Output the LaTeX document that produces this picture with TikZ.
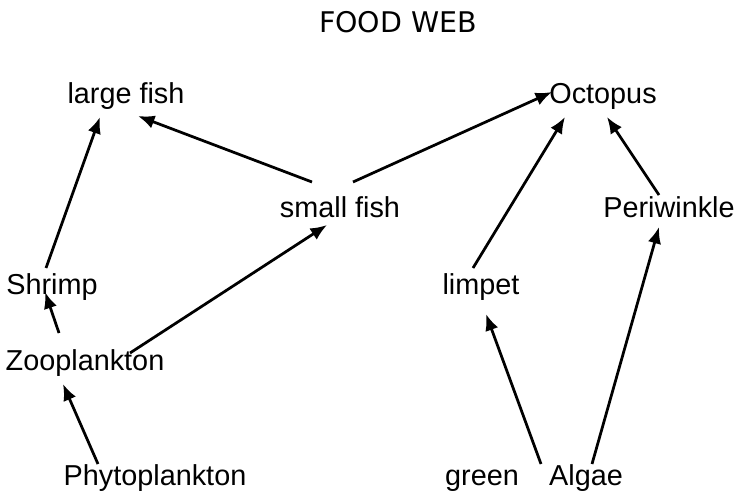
\documentclass[tikz,border=0pt]{standalone}
\usepackage{fontspec}
\setmainfont{Liberation Sans}
\newfontfamily\titlefont{DejaVu Sans}
\usetikzlibrary{arrows.meta}

\tikzset{
  organism/.style={anchor=base, inner sep=0pt, font=\fontsize{16.4}{18}\selectfont},
  eats/.style={-{Latex[length=3.3mm,width=2.7mm]}, line width=0.55mm},
}

\begin{document}
\begin{tikzpicture}[x=0.2mm, y=-0.2mm]
\useasboundingbox (0,0) rectangle (737,497) ;

\node[anchor=base, inner sep=0pt, font=\titlefont\fontsize{16.2}{18}\selectfont] (title) at (398,32) {FOOD WEB} ;

% top row
\node[organism] (largefish) at (126,103) {large fish} ;
\node[organism] (octopus) at (603,103) {Octopus} ;
% middle
\node[organism] (smallfish) at (340,217) {small fish} ;
\node[organism] (periwinkle) at (669,217) {Periwinkle} ;
\node[organism] (shrimp) at (52,294) {Shrimp} ;
\node[organism] (limpet) at (481,294) {limpet} ;
\node[organism] (zoo) at (85,370) {Zooplankton} ;
% bottom row
\node[organism] (phyto) at (155,485) {Phytoplankton} ;
\node[organism] (green) at (482,485) {green} ;
\node[organism] (algae) at (586,485) {Algae} ;

\draw[eats] ([shift={(-6,-26)}]shrimp.base) -- ([shift={(-26,14)}]largefish.base) ;
\draw[eats] ([shift={(-28,-35)}]smallfish.base) -- ([shift={(12,13)}]largefish.base) ;
\draw[eats] ([shift={(13,-35)}]smallfish.base) -- ([shift={(-51,-11)}]octopus.base) ;
\draw[eats] ([shift={(-26,-37)}]zoo.base) -- ([shift={(-7,-2)}]shrimp.base) ;
\draw[eats] ([shift={(45,-17)}]zoo.base) -- ([shift={(-13,8)}]smallfish.base) ;
\draw[eats] ([shift={(-57,-21)}]phyto.base) -- ([shift={(-22,14)}]zoo.base) ;
\draw[eats] ([shift={(-8,-26)}]limpet.base) -- ([shift={(-38,14)}]octopus.base) ;
\draw[eats] ([shift={(-10,-22)}]periwinkle.base) -- ([shift={(4,14)}]octopus.base) ;
\draw[eats] ([shift={(-45,-21)}]algae.base) -- ([shift={(5,20)}]limpet.base) ;
\draw[eats] ([shift={(6,-21)}]algae.base) -- ([shift={(-10,10)}]periwinkle.base) ;
\end{tikzpicture}
\end{document}
